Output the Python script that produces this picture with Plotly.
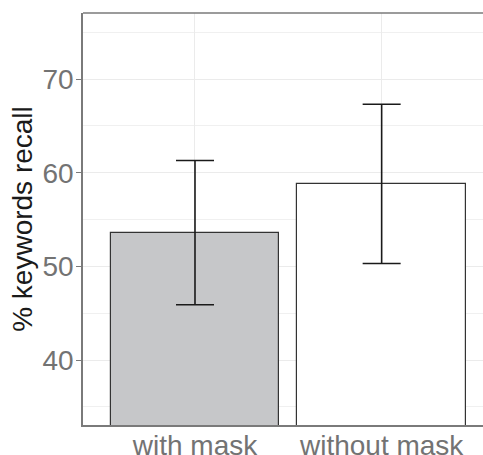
import plotly.graph_objects as go

categories = ["with mask", "without mask"]
recall = [53.6, 58.8]
err_upper = [61.3, 67.3]
err_lower = [45.9, 50.3]
bar_colors = ["#c6c7c9", "#ffffff"]

plus = [u - m for u, m in zip(err_upper, recall)]
minus = [m - l for m, l in zip(recall, err_lower)]

fig = go.Figure()
fig.add_trace(go.Bar(
    x=[0, 1], y=recall, width=0.905,
    marker=dict(color=bar_colors, line=dict(color="#333333", width=1.2)),
    error_y=dict(type="data", symmetric=False, array=plus, arrayminus=minus,
                 color="#1a1a1a", thickness=1.6, width=19),
    showlegend=False,
))

fig.update_layout(
    width=483, height=455,
    margin=dict(l=83, r=0, t=13, b=30, pad=0),
    plot_bgcolor="white", paper_bgcolor="white",
    font=dict(family="Arial, Liberation Sans, sans-serif"),
    bargap=0,
    shapes=[dict(type="line", xref="paper", yref="paper", x0=0, x1=1, y0=1, y1=1,
                 line=dict(color="#7a7a7a", width=1.5), layer="above")],
)
fig.update_xaxes(
    range=[-0.6, 1.543], tickmode="array", tickvals=[0, 1], ticktext=categories,
    tickfont=dict(size=28, color="#737373"), ticks="", showline=True,
    linecolor="#7a7a7a", linewidth=1.5, mirror=False, automargin=False,
    ticklabelstandoff=-5,
    showgrid=True, gridcolor="#ebebeb", gridwidth=1.3, zeroline=False,
)
fig.update_yaxes(
    range=[33.06, 77.05], tickvals=[40, 50, 60, 70],
    tickfont=dict(size=28, color="#737373"), ticks="outside", ticklen=5,
    tickcolor="#7a7a7a", tickwidth=1.3, automargin=False,
    ticklabelstandoff=-3,
    showline=True, linecolor="#7a7a7a", linewidth=1.5,
    showgrid=True, gridcolor="#ebebeb", gridwidth=1.3, zeroline=False,
    minor=dict(tickvals=[35, 45, 55, 65, 75], showgrid=True, gridcolor="#f0f0f0", gridwidth=0.7, ticks=""),
    title=dict(text="% keywords recall", font=dict(size=28, color="#1a1a1a"), standoff=2),
)

fig.write_html(
    "out.html",
    config={"responsive": False, "displayModeBar": False},
    post_script="document.body.style.margin='0px';document.body.style.overflow='hidden';",
)
